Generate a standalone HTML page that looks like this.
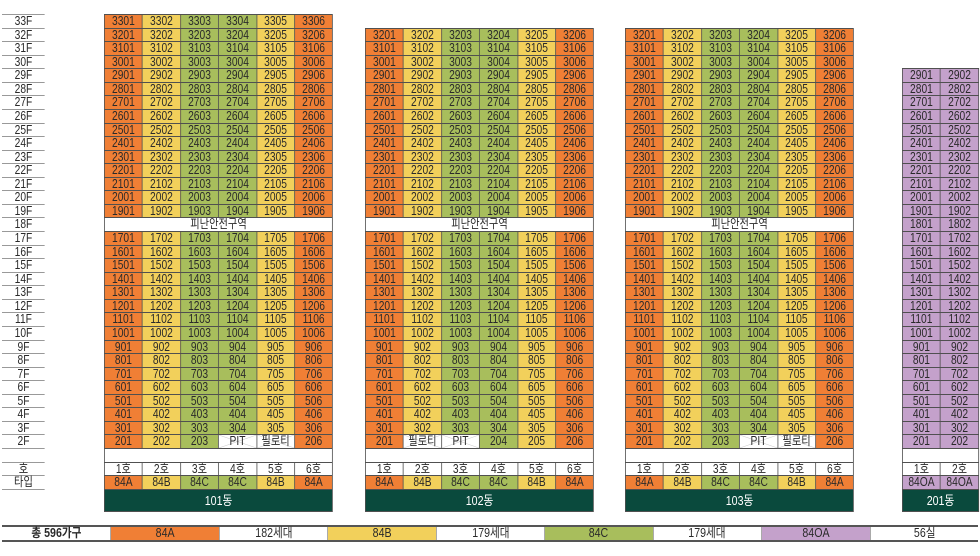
<!DOCTYPE html>
<html><head><meta charset="utf-8">
<style>
html,body{margin:0;padding:0}
body{width:980px;height:556px;background:#fff;position:relative;overflow:hidden;font-family:"Liberation Sans","Noto Sans CJK KR",sans-serif;color:#2a2a2a}
.b{position:absolute;display:grid;background:#505050;gap:1px;padding:1px;box-sizing:border-box;transform:scaleX(.82);transform-origin:0 0}
.b6{grid-template-columns:repeat(6,1fr);width:279.3px}
.b2{grid-template-columns:repeat(2,1fr);width:93.9px}
o,y,g,v,w,x,z{display:block;text-align:center;font-size:12.5px;line-height:12.6px;white-space:nowrap;overflow:hidden}
o{background:#F07F35}y{background:#F2D05B}g{background:#A8BE5C}v{background:#C4A1CB}w{background:#fff}
x{background:linear-gradient(to top right,transparent 48%,#c8c8c8 50%,transparent 52%),linear-gradient(to bottom right,transparent 48%,#c8c8c8 50%,transparent 52%),#fff}
.s{grid-column:1/-1}
z{grid-column:1/-1;background:#0A4A3D;color:#fff;font-size:13px;line-height:21px}
.f{position:absolute;left:2px;top:14px;width:52.4px;transform:scaleX(.82);transform-origin:0 0;border-bottom:1px solid #999}
.f div{height:13.5625px;box-sizing:border-box;border-top:1px solid #999;text-align:center;font-size:12.5px;line-height:12.5px}
.l{position:absolute;left:2px;top:525px;width:976px;height:17px;box-sizing:border-box;border-top:2px solid #555;border-bottom:2px solid #555;display:grid;grid-template-columns:repeat(9,1fr)}
.l div{border-left:1px solid #aaa;text-align:center;font-size:12.5px;line-height:13px}
.l div:first-child{border-left:0;font-weight:bold}
.l span{display:inline-block;transform:scaleX(.85)}
.lo{background:#F07F35}.ly{background:#F2D05B}.lg{background:#A8BE5C}.lv{background:#C4A1CB}
</style></head><body>

<div class="f">
<div>33F</div><div>32F</div><div>31F</div><div>30F</div><div>29F</div><div>28F</div><div>27F</div><div>26F</div><div>25F</div><div>24F</div><div>23F</div><div>22F</div><div>21F</div><div>20F</div><div>19F</div><div>18F</div><div>17F</div><div>16F</div><div>15F</div><div>14F</div><div>13F</div><div>12F</div><div>11F</div><div>10F</div><div>9F</div><div>8F</div><div>7F</div><div>6F</div><div>5F</div><div>4F</div><div>3F</div><div>2F</div><div></div><div>호</div><div>타입</div>
</div>

<div class="b b6" style="left:104px;top:14px;grid-template-rows:repeat(35,12.5625px) 21px">
<o>3301</o><y>3302</y><g>3303</g><g>3304</g><y>3305</y><o>3306</o>
<o>3201</o><y>3202</y><g>3203</g><g>3204</g><y>3205</y><o>3206</o>
<o>3101</o><y>3102</y><g>3103</g><g>3104</g><y>3105</y><o>3106</o>
<o>3001</o><y>3002</y><g>3003</g><g>3004</g><y>3005</y><o>3006</o>
<o>2901</o><y>2902</y><g>2903</g><g>2904</g><y>2905</y><o>2906</o>
<o>2801</o><y>2802</y><g>2803</g><g>2804</g><y>2805</y><o>2806</o>
<o>2701</o><y>2702</y><g>2703</g><g>2704</g><y>2705</y><o>2706</o>
<o>2601</o><y>2602</y><g>2603</g><g>2604</g><y>2605</y><o>2606</o>
<o>2501</o><y>2502</y><g>2503</g><g>2504</g><y>2505</y><o>2506</o>
<o>2401</o><y>2402</y><g>2403</g><g>2404</g><y>2405</y><o>2406</o>
<o>2301</o><y>2302</y><g>2303</g><g>2304</g><y>2305</y><o>2306</o>
<o>2201</o><y>2202</y><g>2203</g><g>2204</g><y>2205</y><o>2206</o>
<o>2101</o><y>2102</y><g>2103</g><g>2104</g><y>2105</y><o>2106</o>
<o>2001</o><y>2002</y><g>2003</g><g>2004</g><y>2005</y><o>2006</o>
<o>1901</o><y>1902</y><g>1903</g><g>1904</g><y>1905</y><o>1906</o>
<w class="s">피난안전구역</w>
<o>1701</o><y>1702</y><g>1703</g><g>1704</g><y>1705</y><o>1706</o>
<o>1601</o><y>1602</y><g>1603</g><g>1604</g><y>1605</y><o>1606</o>
<o>1501</o><y>1502</y><g>1503</g><g>1504</g><y>1505</y><o>1506</o>
<o>1401</o><y>1402</y><g>1403</g><g>1404</g><y>1405</y><o>1406</o>
<o>1301</o><y>1302</y><g>1303</g><g>1304</g><y>1305</y><o>1306</o>
<o>1201</o><y>1202</y><g>1203</g><g>1204</g><y>1205</y><o>1206</o>
<o>1101</o><y>1102</y><g>1103</g><g>1104</g><y>1105</y><o>1106</o>
<o>1001</o><y>1002</y><g>1003</g><g>1004</g><y>1005</y><o>1006</o>
<o>901</o><y>902</y><g>903</g><g>904</g><y>905</y><o>906</o>
<o>801</o><y>802</y><g>803</g><g>804</g><y>805</y><o>806</o>
<o>701</o><y>702</y><g>703</g><g>704</g><y>705</y><o>706</o>
<o>601</o><y>602</y><g>603</g><g>604</g><y>605</y><o>606</o>
<o>501</o><y>502</y><g>503</g><g>504</g><y>505</y><o>506</o>
<o>401</o><y>402</y><g>403</g><g>404</g><y>405</y><o>406</o>
<o>301</o><y>302</y><g>303</g><g>304</g><y>305</y><o>306</o>
<o>201</o><y>202</y><g>203</g><x>PIT</x><x>필로티</x><o>206</o>
<w class="s"></w>
<w>1호</w><w>2호</w><w>3호</w><w>4호</w><w>5호</w><w>6호</w>
<o>84A</o><y>84B</y><g>84C</g><g>84C</g><y>84B</y><o>84A</o>
<z>101동</z>
</div>

<div class="b b6" style="left:365px;top:27.5625px;grid-template-rows:repeat(34,12.5625px) 21px">
<o>3201</o><y>3202</y><g>3203</g><g>3204</g><y>3205</y><o>3206</o>
<o>3101</o><y>3102</y><g>3103</g><g>3104</g><y>3105</y><o>3106</o>
<o>3001</o><y>3002</y><g>3003</g><g>3004</g><y>3005</y><o>3006</o>
<o>2901</o><y>2902</y><g>2903</g><g>2904</g><y>2905</y><o>2906</o>
<o>2801</o><y>2802</y><g>2803</g><g>2804</g><y>2805</y><o>2806</o>
<o>2701</o><y>2702</y><g>2703</g><g>2704</g><y>2705</y><o>2706</o>
<o>2601</o><y>2602</y><g>2603</g><g>2604</g><y>2605</y><o>2606</o>
<o>2501</o><y>2502</y><g>2503</g><g>2504</g><y>2505</y><o>2506</o>
<o>2401</o><y>2402</y><g>2403</g><g>2404</g><y>2405</y><o>2406</o>
<o>2301</o><y>2302</y><g>2303</g><g>2304</g><y>2305</y><o>2306</o>
<o>2201</o><y>2202</y><g>2203</g><g>2204</g><y>2205</y><o>2206</o>
<o>2101</o><y>2102</y><g>2103</g><g>2104</g><y>2105</y><o>2106</o>
<o>2001</o><y>2002</y><g>2003</g><g>2004</g><y>2005</y><o>2006</o>
<o>1901</o><y>1902</y><g>1903</g><g>1904</g><y>1905</y><o>1906</o>
<w class="s">피난안전구역</w>
<o>1701</o><y>1702</y><g>1703</g><g>1704</g><y>1705</y><o>1706</o>
<o>1601</o><y>1602</y><g>1603</g><g>1604</g><y>1605</y><o>1606</o>
<o>1501</o><y>1502</y><g>1503</g><g>1504</g><y>1505</y><o>1506</o>
<o>1401</o><y>1402</y><g>1403</g><g>1404</g><y>1405</y><o>1406</o>
<o>1301</o><y>1302</y><g>1303</g><g>1304</g><y>1305</y><o>1306</o>
<o>1201</o><y>1202</y><g>1203</g><g>1204</g><y>1205</y><o>1206</o>
<o>1101</o><y>1102</y><g>1103</g><g>1104</g><y>1105</y><o>1106</o>
<o>1001</o><y>1002</y><g>1003</g><g>1004</g><y>1005</y><o>1006</o>
<o>901</o><y>902</y><g>903</g><g>904</g><y>905</y><o>906</o>
<o>801</o><y>802</y><g>803</g><g>804</g><y>805</y><o>806</o>
<o>701</o><y>702</y><g>703</g><g>704</g><y>705</y><o>706</o>
<o>601</o><y>602</y><g>603</g><g>604</g><y>605</y><o>606</o>
<o>501</o><y>502</y><g>503</g><g>504</g><y>505</y><o>506</o>
<o>401</o><y>402</y><g>403</g><g>404</g><y>405</y><o>406</o>
<o>301</o><y>302</y><g>303</g><g>304</g><y>305</y><o>306</o>
<o>201</o><x>필로티</x><x>PIT</x><g>204</g><y>205</y><o>206</o>
<w class="s"></w>
<w>1호</w><w>2호</w><w>3호</w><w>4호</w><w>5호</w><w>6호</w>
<o>84A</o><y>84B</y><g>84C</g><g>84C</g><y>84B</y><o>84A</o>
<z>102동</z>
</div>

<div class="b b6" style="left:625px;top:27.5625px;grid-template-rows:repeat(34,12.5625px) 21px">
<o>3201</o><y>3202</y><g>3203</g><g>3204</g><y>3205</y><o>3206</o>
<o>3101</o><y>3102</y><g>3103</g><g>3104</g><y>3105</y><o>3106</o>
<o>3001</o><y>3002</y><g>3003</g><g>3004</g><y>3005</y><o>3006</o>
<o>2901</o><y>2902</y><g>2903</g><g>2904</g><y>2905</y><o>2906</o>
<o>2801</o><y>2802</y><g>2803</g><g>2804</g><y>2805</y><o>2806</o>
<o>2701</o><y>2702</y><g>2703</g><g>2704</g><y>2705</y><o>2706</o>
<o>2601</o><y>2602</y><g>2603</g><g>2604</g><y>2605</y><o>2606</o>
<o>2501</o><y>2502</y><g>2503</g><g>2504</g><y>2505</y><o>2506</o>
<o>2401</o><y>2402</y><g>2403</g><g>2404</g><y>2405</y><o>2406</o>
<o>2301</o><y>2302</y><g>2303</g><g>2304</g><y>2305</y><o>2306</o>
<o>2201</o><y>2202</y><g>2203</g><g>2204</g><y>2205</y><o>2206</o>
<o>2101</o><y>2102</y><g>2103</g><g>2104</g><y>2105</y><o>2106</o>
<o>2001</o><y>2002</y><g>2003</g><g>2004</g><y>2005</y><o>2006</o>
<o>1901</o><y>1902</y><g>1903</g><g>1904</g><y>1905</y><o>1906</o>
<w class="s">피난안전구역</w>
<o>1701</o><y>1702</y><g>1703</g><g>1704</g><y>1705</y><o>1706</o>
<o>1601</o><y>1602</y><g>1603</g><g>1604</g><y>1605</y><o>1606</o>
<o>1501</o><y>1502</y><g>1503</g><g>1504</g><y>1505</y><o>1506</o>
<o>1401</o><y>1402</y><g>1403</g><g>1404</g><y>1405</y><o>1406</o>
<o>1301</o><y>1302</y><g>1303</g><g>1304</g><y>1305</y><o>1306</o>
<o>1201</o><y>1202</y><g>1203</g><g>1204</g><y>1205</y><o>1206</o>
<o>1101</o><y>1102</y><g>1103</g><g>1104</g><y>1105</y><o>1106</o>
<o>1001</o><y>1002</y><g>1003</g><g>1004</g><y>1005</y><o>1006</o>
<o>901</o><y>902</y><g>903</g><g>904</g><y>905</y><o>906</o>
<o>801</o><y>802</y><g>803</g><g>804</g><y>805</y><o>806</o>
<o>701</o><y>702</y><g>703</g><g>704</g><y>705</y><o>706</o>
<o>601</o><y>602</y><g>603</g><g>604</g><y>605</y><o>606</o>
<o>501</o><y>502</y><g>503</g><g>504</g><y>505</y><o>506</o>
<o>401</o><y>402</y><g>403</g><g>404</g><y>405</y><o>406</o>
<o>301</o><y>302</y><g>303</g><g>304</g><y>305</y><o>306</o>
<o>201</o><y>202</y><g>203</g><x>PIT</x><x>필로티</x><o>206</o>
<w class="s"></w>
<w>1호</w><w>2호</w><w>3호</w><w>4호</w><w>5호</w><w>6호</w>
<o>84A</o><y>84B</y><g>84C</g><g>84C</g><y>84B</y><o>84A</o>
<z>103동</z>
</div>

<div class="b b2" style="left:902px;top:68.25px;grid-template-rows:repeat(31,12.5625px) 21px">
<v>2901</v><v>2902</v>
<v>2801</v><v>2802</v>
<v>2701</v><v>2702</v>
<v>2601</v><v>2602</v>
<v>2501</v><v>2502</v>
<v>2401</v><v>2402</v>
<v>2301</v><v>2302</v>
<v>2201</v><v>2202</v>
<v>2101</v><v>2102</v>
<v>2001</v><v>2002</v>
<v>1901</v><v>1902</v>
<v>1801</v><v>1802</v>
<v>1701</v><v>1702</v>
<v>1601</v><v>1602</v>
<v>1501</v><v>1502</v>
<v>1401</v><v>1402</v>
<v>1301</v><v>1302</v>
<v>1201</v><v>1202</v>
<v>1101</v><v>1102</v>
<v>1001</v><v>1002</v>
<v>901</v><v>902</v>
<v>801</v><v>802</v>
<v>701</v><v>702</v>
<v>601</v><v>602</v>
<v>501</v><v>502</v>
<v>401</v><v>402</v>
<v>301</v><v>302</v>
<v>201</v><v>202</v>
<w class="s"></w>
<w>1호</w><w>2호</w>
<v>84OA</v><v>84OA</v>
<z>201동</z>
</div>

<div class="l">
<div><span>총 596가구</span></div>
<div class="lo"><span>84A</span></div>
<div><span>182세대</span></div>
<div class="ly"><span>84B</span></div>
<div><span>179세대</span></div>
<div class="lg"><span>84C</span></div>
<div><span>179세대</span></div>
<div class="lv"><span>84OA</span></div>
<div><span>56실</span></div>
</div>

</body></html>
